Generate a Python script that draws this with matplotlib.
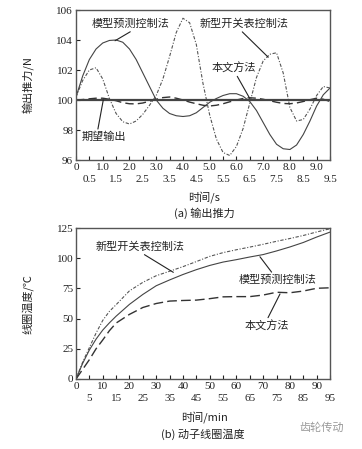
import matplotlib
matplotlib.use("Agg")
import matplotlib.pyplot as plt
import numpy as np

plt.rcParams['font.family'] = ['Noto Sans CJK SC', 'DejaVu Sans']

# (a) output thrust, sampled every 0.25 s
t_a = [0, 0.25, 0.5, 0.75, 1.0, 1.25, 1.5, 1.75, 2.0, 2.25, 2.5, 2.75, 3.0,
       3.25, 3.5, 3.75, 4.0, 4.25, 4.5, 4.75, 5.0, 5.25, 5.5, 5.75, 6.0,
       6.25, 6.5, 6.75, 7.0, 7.25, 7.5, 7.75, 8.0, 8.25, 8.5, 8.75, 9.0,
       9.25, 9.5]
mpc_a = [100.2, 101.6, 102.7, 103.4, 103.8, 103.97, 104.0, 103.85, 103.4,
         102.7, 101.8, 100.9, 100.0, 99.45, 99.1, 98.95, 98.9, 98.95, 99.15,
         99.5, 99.85, 100.1, 100.3, 100.42, 100.42, 100.25, 99.9, 99.3, 98.5,
         97.7, 97.05, 96.75, 96.7, 97.0, 97.7, 98.6, 99.6, 100.35, 100.8]
switch_a = [100.2, 101.3, 102.0, 102.15, 101.4, 100.1, 99.1, 98.55, 98.4,
            98.6, 99.05, 99.65, 100.3, 101.4, 102.9, 104.5, 105.45, 105.15,
            103.7, 101.1, 99.0, 97.4, 96.5, 96.3, 96.9, 98.1, 99.8, 101.5,
            102.6, 103.05, 103.15, 101.8, 99.5, 98.6, 98.7, 99.4, 100.3,
            100.9, 100.8]
ours_a = [100.0, 100.03, 100.08, 100.12, 100.12, 100.05, 99.95, 99.82, 99.75,
          99.74, 99.8, 99.92, 100.05, 100.16, 100.2, 100.12, 100.0, 99.86,
          99.75, 99.65, 99.6, 99.65, 99.75, 99.88, 100.0, 100.1, 100.15,
          100.12, 100.05, 99.95, 99.85, 99.77, 99.75, 99.8, 99.9, 100.02,
          100.12, 100.05, 99.9]
target_a = 100.0

# (b) coil temperature
t_b = [0, 2.5, 5, 7.5, 10, 12.5, 15, 20, 25, 30, 35, 40, 45, 50, 55, 60, 65,
       70, 75, 80, 85, 90, 95]
switch_b = [0, 14, 26, 38, 48.5, 56, 61.5, 73, 80, 85.5, 89.2, 93, 97.2,
            101.5, 104.6, 107, 109.2, 111.5, 114, 116.3, 118.8, 121.7, 124.4]
mpc_b = [0, 13, 24, 33, 40.5, 46.5, 52, 61.8, 70, 77.2, 82, 86.5, 90.5, 94,
         96.8, 98.8, 101, 103, 106, 109.3, 113, 117.5, 121.6]
ours_b = [0, 8, 16, 25, 32.3, 40, 46.3, 53.5, 59.2, 62.5, 64.5, 65, 65.3,
          66.5, 68, 68.2, 68.2, 69.5, 71.8, 71.4, 72.8, 75.1, 75.5]

xt_a_major = [0, 1, 2, 3, 4, 5, 6, 7, 8, 9]
xt_a_minor = [0.5, 1.5, 2.5, 3.5, 4.5, 5.5, 6.5, 7.5, 8.5, 9.5]
yt_a = [96, 98, 100, 102, 104, 106]
xt_b_major = [0, 10, 20, 30, 40, 50, 60, 70, 80, 90]
xt_b_minor = [5, 15, 25, 35, 45, 55, 65, 75, 85, 95]
yt_b = [0, 25, 50, 75, 100, 125]

num_font = dict(family='Liberation Serif', size=8, color='#222')
cjk = dict(fontsize=8, color='#222')
line_col = '#444'
leader = dict(arrowstyle='-', color='#222', lw=0.8, shrinkA=0, shrinkB=0)

fig = plt.figure(figsize=(3.62, 4.49), dpi=100)
ax1 = fig.add_axes([76/362, 1-160/449, 254/362, 150/449])
ax2 = fig.add_axes([76/362, 1-379/449, 254/362, 151/449])


def style_axes(ax, xmaj, xmin_, yt, xmaj_lbl, xmin_lbl):
    for s in ax.spines.values():
        s.set_color('#555')
        s.set_linewidth(1.0)
    ax.set_xticks(xmaj, labels=xmaj_lbl)
    ax.set_xticks(xmin_, labels=xmin_lbl, minor=True)
    ax.set_yticks(yt, labels=[str(v) for v in yt])
    ax.tick_params(axis='x', which='major', direction='in', length=3,
                   width=0.8, pad=2.5, colors='#222')
    ax.tick_params(axis='x', which='minor', direction='in', length=3,
                   width=0.8, pad=11, colors='#222')
    ax.tick_params(axis='y', direction='in', length=3, width=0.8, pad=2,
                   colors='#222')
    for lbl in ax.get_xticklabels(which='both') + ax.get_yticklabels():
        lbl.set_fontfamily(num_font['family'])
        lbl.set_fontsize(num_font['size'])


# ---- (a)
ax1.plot(t_a, switch_a, color='#555', lw=0.8, ls=(0, (3, 1.5, 1, 1.5)))
ax1.plot(t_a, mpc_a, color=line_col, lw=0.8)
ax1.plot(t_a, ours_a, color='#333', lw=1.0, ls=(0, (6, 3)))
ax1.axhline(target_a, color='#444', lw=1.6)
ax1.set_xlim(0, 9.5)
ax1.set_ylim(96, 106)
style_axes(ax1, xt_a_major, xt_a_minor, yt_a,
           ['0'] + ['%.1f' % v for v in xt_a_major[1:]],
           ['%.1f' % v for v in xt_a_minor])
ax1.set_ylabel('输出推力/N', fontsize=8, color='#222')
ax1.yaxis.set_label_coords(-0.169, 0.5)

ax1.annotate('模型预测控制法', xy=(1.46, 103.95), xytext=(2.06, 105.07),
             ha='center', va='center', arrowprops=dict(leader, relpos=(0.55, 0)), **cjk)
ax1.annotate('新型开关表控制法', xy=(7.19, 102.85), xytext=(6.28, 105.07),
             ha='center', va='center', arrowprops=dict(leader, relpos=(0.45, 0)), **cjk)
ax1.annotate('本文方法', xy=(6.5, 100.1), xytext=(5.89, 102.13),
             ha='center', va='center', arrowprops=dict(leader, relpos=(0.55, 0)), **cjk)
ax1.annotate('期望输出', xy=(1.02, 100.0), xytext=(1.05, 97.53),
             ha='center', va='center', arrowprops=dict(leader, relpos=(0.35, 1)), **cjk)

# ---- (b)
ax2.plot(t_b, switch_b, color='#555', lw=0.8, ls=(0, (3, 1.5, 1, 1.5)))
ax2.plot(t_b, mpc_b, color=line_col, lw=0.8)
ax2.plot(t_b, ours_b, color='#333', lw=1.0, ls=(0, (7, 3)))
ax2.set_xlim(0, 95)
ax2.set_ylim(0, 125)
style_axes(ax2, xt_b_major, xt_b_minor, yt_b,
           [str(v) for v in xt_b_major], [str(v) for v in xt_b_minor])
ax2.set_ylabel('线圈温度/℃', fontsize=8, color='#222')
ax2.yaxis.set_label_coords(-0.169, 0.5)

ax2.annotate('新型开关表控制法', xy=(36.4, 88.3), xytext=(23.9, 109.5),
             ha='center', va='center', arrowprops=dict(leader, relpos=(0.5, 0)), **cjk)
ax2.annotate('模型预测控制法', xy=(68.8, 101.2), xytext=(75.4, 82),
             ha='center', va='center', arrowprops=dict(leader, relpos=(0.45, 1)), **cjk)
ax2.annotate('本文方法', xy=(76.3, 70.4), xytext=(71.3, 43.9),
             ha='center', va='center', arrowprops=dict(leader, relpos=(0.5, 1)), **cjk)

# axis titles and captions placed in figure pixels
fig.text(204/362, 1-197/449, '时间/s', ha='center', va='center', **cjk)
fig.text(204/362, 1-213/449, '(a) 输出推力', ha='center', va='center', **cjk)
fig.text(204/362, 1-417/449, '时间/min', ha='center', va='center', **cjk)
fig.text(203/362, 1-434/449, '(b) 动子线圈温度', ha='center', va='center', **cjk)
fig.text(322/362, 1-428/449, '齿轮传动', ha='center', va='center',
         fontsize=8, color='#999')

fig.savefig('out.png', dpi=100)
